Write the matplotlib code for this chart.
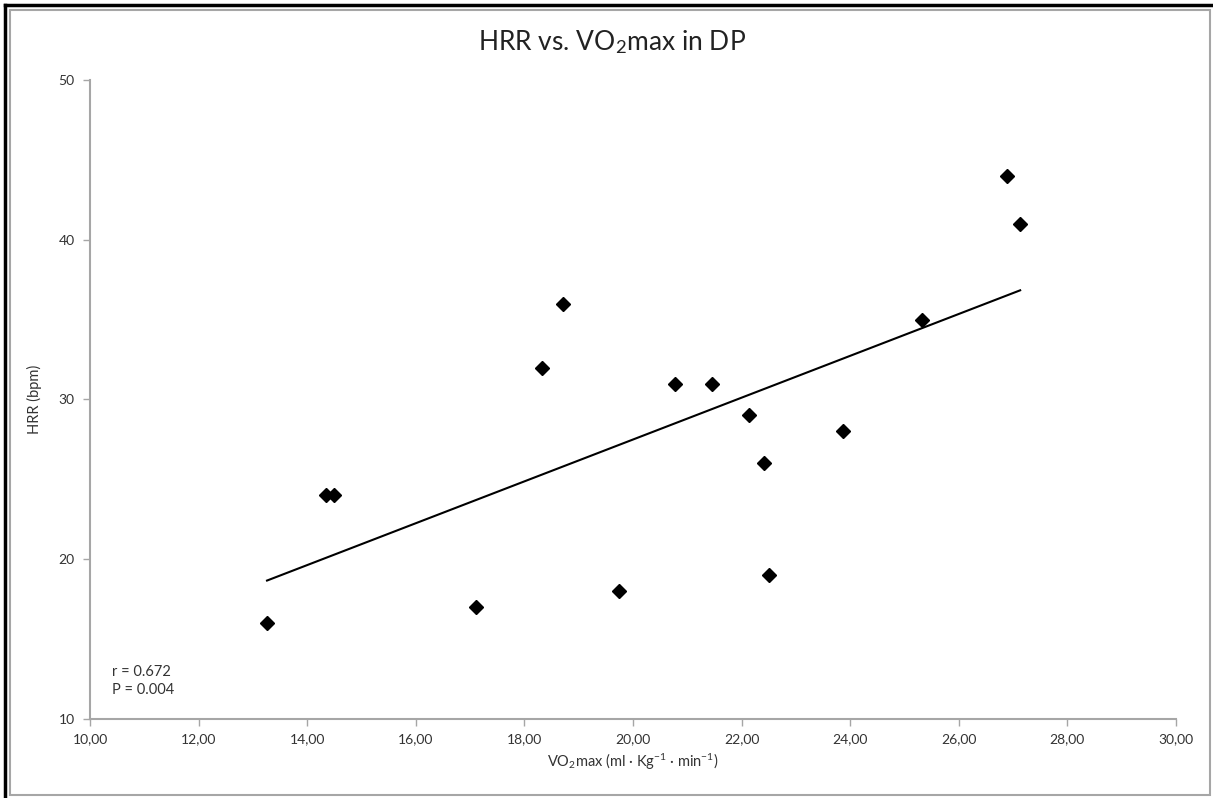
import matplotlib.pyplot as plt
from matplotlib.lines import Line2D
from matplotlib.patches import Rectangle
import numpy as np

plt.rcParams['font.family'] = ['Lato', 'DejaVu Sans']
plt.rcParams['mathtext.fontset'] = 'custom'
plt.rcParams['mathtext.rm'] = 'Lato'
plt.rcParams['mathtext.it'] = 'Lato:italic'
plt.rcParams['mathtext.bf'] = 'Lato:bold'

# VO2max (ml/kg/min) and heart rate recovery (bpm)
vo2max = [13.26, 14.35, 14.49, 17.11, 18.32, 18.71, 19.74, 20.77,
          21.45, 22.14, 22.41, 22.50, 23.87, 25.32, 26.89, 27.13]
hrr = [16, 24, 24, 17, 32, 36, 18, 31, 31, 29, 26, 19, 28, 35, 44, 41]

x_ticks = [10, 12, 14, 16, 18, 20, 22, 24, 26, 28, 30]
y_ticks = [10, 20, 30, 40, 50]

W, H = 1213, 798
fig = plt.figure(figsize=(W / 100, H / 100), dpi=100)
ax = fig.add_axes([90 / W, 1 - 719 / H, (1176 - 90) / W, (719 - 80) / H])

ax.plot(vo2max, hrr, 'D', color='black', markersize=7, zorder=3)

# linear trend line over the data range
slope, intercept = np.polyfit(vo2max, hrr, 1)
xs = np.array([min(vo2max), max(vo2max)])
ax.plot(xs, slope * xs + intercept, color='black', linewidth=1.5)

ax.set_xlim(10, 30)
ax.set_ylim(10, 50)
ax.set_xticks(x_ticks)
ax.set_xticklabels([f'{v:.2f}'.replace('.', ',') for v in x_ticks])
ax.set_yticks(y_ticks)

for side in ['top', 'right']:
    ax.spines[side].set_visible(False)
for side in ['left', 'bottom']:
    ax.spines[side].set_color('#a6a6a6')
    ax.spines[side].set_linewidth(1.5)
ax.tick_params(colors='#a6a6a6', labelcolor='#333333', labelsize=10, length=5, width=1)
ax.tick_params(axis='x', pad=5)
ax.tick_params(axis='y', pad=6)

ax.set_xlabel('VO$_2$max (ml · Kg$^{-1}$ · min$^{-1}$)', fontsize=10.5, color='#333333', labelpad=5)
ax.set_ylabel('HRR (bpm)', fontsize=10.5, color='#333333', labelpad=12)
fig.text(612 / W, 1 - 42 / H, 'HRR vs. VO$_2$max in DP', fontsize=19,
         ha='center', va='center', color='#222222')

ax.text(0.0203, 0.085, 'r = 0.672\nP = 0.004', transform=ax.transAxes,
        fontsize=10.5, color='#333333', linespacing=1.35, va='top')

# chart borders
fig.patches.append(Rectangle((10 / W, 3 / H), 1200 / W, 1 - 13 / H, transform=fig.transFigure,
                             fill=False, edgecolor='#a6a6a6', linewidth=1.5))
fig.lines.append(Line2D([5 / W, 5 / W], [0, 1 - 5 / H], transform=fig.transFigure,
                        color='black', linewidth=2.5))
fig.lines.append(Line2D([5 / W, 1], [1 - 5 / H, 1 - 5 / H], transform=fig.transFigure,
                        color='black', linewidth=2.5))

fig.savefig('out.png', dpi=100)
